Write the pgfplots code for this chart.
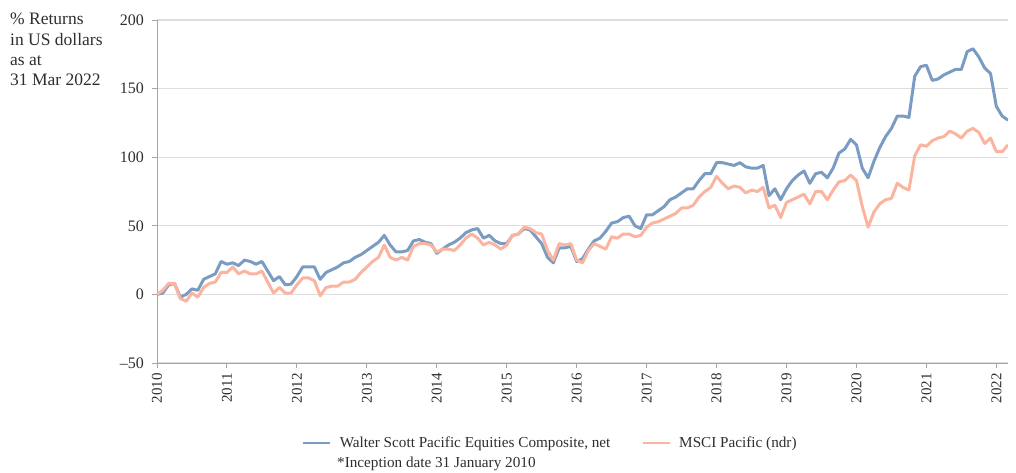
\documentclass[border=0pt]{standalone}
\usepackage{pgfplots}
\usepackage{pgfplotstable}
\pgfplotsset{compat=1.18}
\usepackage{fontspec}
\setmainfont{Liberation Serif}
\definecolor{wsblue}{HTML}{7B9CC2}
\definecolor{mscipink}{HTML}{FBB4A0}
\definecolor{gridgray}{HTML}{DEDEDE}
\definecolor{axisgray}{HTML}{A5A5A5}
\definecolor{textcol}{HTML}{2E2E2E}

\pgfplotstableread{
k ws msci
0 0 0
1 1 3
2 7 8
3 8 8
4 -2 -3
5 0 -5
6 4 1
7 3 -2
8 11 5
9 13 8
10 15 9
11 24 16
12 22 16
13 23 20
14 21 15
15 25 17
16 24 15
17 22 15
18 24 17
19 17 9
20 10 1
21 13 5
22 7 1
23 7.5 1
24 13 7
25 20 12
26 20 12
27 20 10
28 11 -1
29 16 5
30 18 6
31 20 6
32 23 9
33 24 9
34 27 11
35 29 16
36 32 20
37 35 24
38 38 27
39 43 36
40 36 27
41 31 25
42 31 27
43 32 25
44 39 35
45 40 37
46 38 37
47 37 36
48 30 31
49 33 33
50 36 33
51 38 32
52 41 36
53 45 41
54 47 44
55 48 41
56 41 36
57 43 38
58 39 36
59 37 33
60 37 36
61 43 43
62 44 44
63 48 49
64 47 48
65 42 45
66 37 44
67 27 32
68 23 25
69 34 37
70 34 36
71 35 37
72 24 25
73 26 23
74 33 32
75 39 37
76 41 35
77 46 33
78 52 42
79 53 41
80 56 44
81 57 44
82 50 42
83 48 43
84 58 49
85 58 52
86 61 53
87 64 55
88 69 57
89 71 59
90 74 63
91 77 63
92 77 65
93 83 71
94 88 75
95 88 78
96 96 86
97 96 81
98 95 77
99 94 79
100 96 78
101 93 74
102 92 76
103 92 75
104 94 78
105 72 63
106 77 65
107 69 56
108 77 67
109 83 69
110 87 71
111 90 73
112 81 66
113 88 75
114 89 75
115 85 69
116 92 76
117 103 82
118 106 83
119 113 87
120 109 83
121 92 64
122 85 49
123 97 60
124 107 66
125 115 69
126 121 70
127 130 81
128 130 78
129 129 76
130 159 101
131 166 109
132 167 108
133 156 112
134 157 114
135 160 115
136 162 119
137 164 117
138 164 114
139 177 119
140 179 121
141 173 118
142 165 110
143 161 114
144 137 104
145 130 104
146 127 109
}\datatable

\begin{document}
\begin{tikzpicture}
\path[use as bounding box] (-157bp,-110bp) rectangle (859bp,363bp);
\begin{axis}[
  at={(0,0)}, anchor=south west,
  scale only axis, width=851bp, height=343bp,
  xmin=0, xmax=146, ymin=-50, ymax=200,
  axis x line*=bottom, axis y line*=left,
  axis line style={draw=axisgray, line width=0.9bp, -},
  xtick={0,12,24,36,48,60,72,84,96,108,120,132,144},
  xticklabels={2010,2011,2012,2013,2014,2015,2016,2017,2018,2019,2020,2021,2022},
  ytick={-50,0,50,100,150,200},
  yticklabels={--50,0,50,100,150,200},
  tick align=outside,
  major tick length=5bp,
  tick style={draw=axisgray, line width=0.9bp},
  ymajorgrids,
  grid style={draw=gridgray, line width=1.3bp},
  xticklabel style={font=\fontsize{15bp}{15bp}\selectfont, text=textcol, inner sep=0pt, yshift=-5bp, rotate=90, anchor=east},
  yticklabel style={font=\fontsize{16bp}{16bp}\selectfont, text=textcol, inner sep=0pt, anchor=east, xshift=-8bp},
  legend columns=2,
  legend style={draw=none, fill=none, inner sep=0pt, outer sep=0pt,
    at={(axis description cs:0.1704,-0.2332)}, anchor=west,
    font=\fontsize{15.2bp}{18bp}\selectfont, text=textcol,
    nodes={inner sep=0pt},
    /tikz/every odd column/.append style={column sep=8bp},
    /tikz/every even column/.append style={column sep=31bp}},
  legend image code/.code={\draw[#1, line width=2.8bp] (0bp,0bp) -- (27bp,0bp);},
  legend cell align=left,
]
\addplot[wsblue, line width=3bp, line join=round] table[x=k, y=ws] {\datatable};
\addlegendentry{Walter Scott Pacific Equities Composite, net}
\addplot[mscipink, line width=3bp, line join=round] table[x=k, y=msci] {\datatable};
\addlegendentry{MSCI Pacific (ndr)}
\end{axis}
\begin{scope}[every node/.style={inner sep=0pt, anchor=base west, text=textcol, font=\fontsize{17.5bp}{20bp}\selectfont}]
\node at (-147bp,338bp) {\% Returns};
\node at (-147bp,317.5bp) {in US dollars};
\node at (-147bp,297.5bp) {as at};
\node at (-147bp,277.5bp) {31 Mar 2022};
\end{scope}
\node[inner sep=0pt, anchor=base west, text=textcol, font=\fontsize{15.2bp}{18bp}\selectfont] at (180bp,-104bp) {*Inception date 31 January 2010};
\end{tikzpicture}
\end{document}
